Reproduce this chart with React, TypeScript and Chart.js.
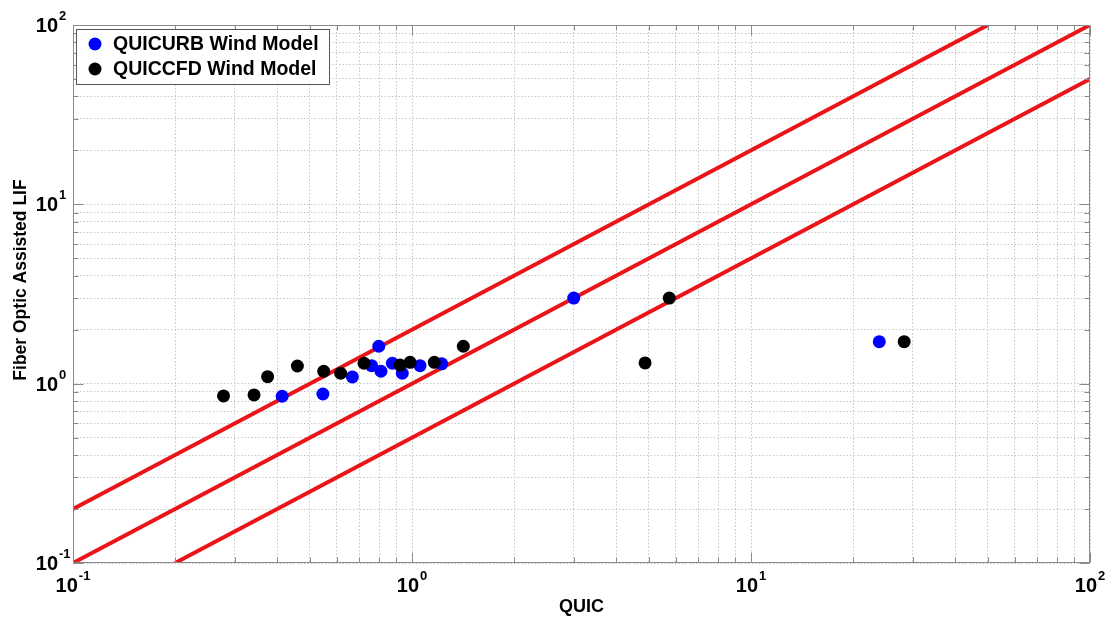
import { useEffect, useRef } from "react";
import { Chart, registerables } from "chart.js";

Chart.register(...registerables);

// QUICURB wind model: QUIC prediction vs. fiber optic assisted LIF measurement
const urbQuic = [0.414, 0.546, 0.667, 0.76, 0.798, 0.81, 0.875, 0.936, 1.056, 1.224, 3.0, 23.9];
const urbLif = [0.851, 0.876, 1.09, 1.26, 1.617, 1.173, 1.3, 1.143, 1.26, 1.29, 3.0, 1.715];

// QUICCFD wind model
const cfdQuic = [0.278, 0.342, 0.375, 0.459, 0.549, 0.616, 0.722, 0.922, 0.987, 1.164, 1.417, 4.87, 5.74, 28.3];
const cfdLif = [0.854, 0.865, 1.094, 1.255, 1.173, 1.143, 1.3, 1.27, 1.316, 1.316, 1.617, 1.305, 3.0, 1.715];

// Reference lines y = k * x (factor-of-two band around 1:1)
const ratioFactors = [2, 1, 0.5];

const axisMin = 0.1;
const axisMax = 100;
const decadeValues = [0.1, 1, 10, 100];
const decadeExponents = ["-1", "0", "1", "2"];
const minorMultipliers = [1, 2, 3, 4, 5, 6, 7, 8, 9];

const xTitle = "QUIC";
const yTitle = "Fiber Optic Assisted LIF";
const urbLabel = "QUICURB Wind Model";
const cfdLabel = "QUICCFD Wind Model";

const FONT = '"Liberation Sans", Arial, Helvetica, sans-serif';
const RED = "#ea1519";
const FRAME = "#8a8a8a";

const gridValues: number[] = [];
decadeValues.slice(0, -1).forEach((d) => minorMultipliers.forEach((m) => gridValues.push(m * d)));
gridValues.push(axisMax);

const isDecade = (v: number) => {
  const l = Math.log10(v);
  return Math.abs(l - Math.round(l)) < 1e-9;
};

const toPoints = (xs: number[], ys: number[]) => xs.map((x, i) => ({ x, y: ys[i] }));

const ratioLine = (k: number) => {
  const x0 = Math.max(axisMin, axisMin / k);
  const x1 = Math.min(axisMax, axisMax / k);
  return [
    { x: x0, y: k * x0 },
    { x: x1, y: k * x1 },
  ];
};

const decorPlugin = {
  id: "logDecor",
  afterDraw(chart: any) {
    const { ctx, chartArea: a } = chart;
    const xs = chart.scales.x;
    const ys = chart.scales.y;
    ctx.save();

    // frame
    ctx.setLineDash([]);
    ctx.strokeStyle = FRAME;
    ctx.lineWidth = 1;
    const L = Math.round(a.left) + 0.5;
    const R = Math.round(a.right) - 0.5;
    const T = Math.round(a.top) + 0.5;
    const B = Math.round(a.bottom) - 0.5;
    ctx.strokeRect(L, T, R - L, B - T);

    // inward tick marks on all four sides
    ctx.beginPath();
    xs.ticks.forEach((t: any) => {
      const px = Math.round(xs.getPixelForValue(t.value)) + 0.5;
      const len = isDecade(t.value) ? 10 : 5;
      ctx.moveTo(px, B);
      ctx.lineTo(px, B - len);
      ctx.moveTo(px, T);
      ctx.lineTo(px, T + len);
    });
    ys.ticks.forEach((t: any) => {
      const py = Math.round(ys.getPixelForValue(t.value)) + 0.5;
      const len = isDecade(t.value) ? 10 : 5;
      ctx.moveTo(L, py);
      ctx.lineTo(L + len, py);
      ctx.moveTo(R, py);
      ctx.lineTo(R - len, py);
    });
    ctx.stroke();

    // decade tick labels with superscript exponents
    const baseFont = `bold 20px ${FONT}`;
    const supFont = `bold 13px ${FONT}`;
    ctx.fillStyle = "#000";
    ctx.textBaseline = "alphabetic";
    decadeValues.forEach((v, i) => {
      const exp = decadeExponents[i];
      ctx.font = baseFont;
      const wb = ctx.measureText("10").width;
      ctx.font = supFont;
      const ws = ctx.measureText(exp).width;

      const px = xs.getPixelForValue(v);
      const sx = px - (wb + 1 + ws) / 2;
      ctx.textAlign = "left";
      ctx.font = baseFont;
      ctx.fillText("10", sx, a.bottom + 29);
      ctx.font = supFont;
      ctx.fillText(exp, sx + wb + 1, a.bottom + 17);

      const py = ys.getPixelForValue(v);
      const rx = a.left - 15;
      ctx.font = baseFont;
      ctx.textAlign = "right";
      ctx.fillText("10", rx, py + 7);
      ctx.font = supFont;
      ctx.textAlign = "left";
      ctx.fillText(exp, rx + 1, py - 5);
    });

    // axis titles
    ctx.textAlign = "center";
    ctx.textBaseline = "middle";
    ctx.font = `bold 18px ${FONT}`;
    ctx.fillText(xTitle, (a.left + a.right) / 2, a.bottom + 44);
    ctx.save();
    ctx.translate(21, a.top + 255);
    ctx.rotate(-Math.PI / 2);
    ctx.font = `bold 17.5px ${FONT}`;
    ctx.fillText(yTitle, 0, 0);
    ctx.restore();

    // legend box
    const entries = chart.data.datasets.filter((d: any) => d.label);
    entries.sort((p: any, q: any) => p.legendIndex - q.legendIndex);
    const bx = Math.round(a.left) + 3;
    const by = Math.round(a.top) + 4;
    const bw = 253;
    const bh = 55;
    ctx.fillStyle = "#fff";
    ctx.fillRect(bx, by, bw, bh);
    ctx.strokeStyle = "#555";
    ctx.strokeRect(bx + 0.5, by + 0.5, bw, bh);
    entries.forEach((ds: any, i: number) => {
      const cy = by + 15 + i * 25;
      ctx.beginPath();
      ctx.arc(bx + 19, cy, 6.5, 0, Math.PI * 2);
      ctx.fillStyle = ds.backgroundColor;
      ctx.fill();
      ctx.fillStyle = "#000";
      ctx.font = `bold 19.5px ${FONT}`;
      ctx.textAlign = "left";
      ctx.textBaseline = "middle";
      ctx.fillText(ds.label, bx + 37, cy + 1);
    });

    ctx.restore();
  },
};

export default function App() {
  const canvasRef = useRef<HTMLCanvasElement | null>(null);

  useEffect(() => {
    if (!canvasRef.current) return;

    const axisCommon = (fitKey: "width" | "height", size: number) => ({
      type: "logarithmic" as const,
      min: axisMin,
      max: axisMax,
      afterBuildTicks: (scale: any) => {
        scale.ticks = gridValues.map((value) => ({ value, major: isDecade(value) }));
      },
      afterFit: (scale: any) => {
        scale[fitKey] = size;
      },
      ticks: { display: false },
      title: { display: false },
      grid: { color: "#c6c6c6", lineWidth: 1, drawTicks: false },
      border: { display: false, dash: [1.5, 2] },
    });

    const chart = new Chart(canvasRef.current, {
      type: "scatter",
      data: {
        datasets: [
          {
            label: cfdLabel,
            legendIndex: 1,
            data: toPoints(cfdQuic, cfdLif),
            backgroundColor: "#000000",
            borderWidth: 0,
            pointRadius: 6.5,
            order: 0,
          } as any,
          {
            label: urbLabel,
            legendIndex: 0,
            data: toPoints(urbQuic, urbLif),
            backgroundColor: "#0000ff",
            borderWidth: 0,
            pointRadius: 6.5,
            order: 1,
          } as any,
          ...ratioFactors.map((k) => ({
            data: ratioLine(k),
            showLine: true,
            borderColor: RED,
            borderWidth: 4,
            pointRadius: 0,
            order: 2,
          })),
        ],
      },
      options: {
        animation: false,
        responsive: true,
        maintainAspectRatio: false,
        layout: { padding: { top: 25, right: 22, left: 0, bottom: 0 } },
        plugins: {
          legend: { display: false },
          tooltip: { enabled: false },
        },
        scales: {
          x: axisCommon("height", 56) as any,
          y: axisCommon("width", 73) as any,
        },
      },
      plugins: [decorPlugin],
    });

    return () => chart.destroy();
  }, []);

  return (
    <div style={{ position: "absolute", left: 0, top: 0, width: 1112, height: 619, background: "#fff" }}>
      <canvas ref={canvasRef} />
    </div>
  );
}
